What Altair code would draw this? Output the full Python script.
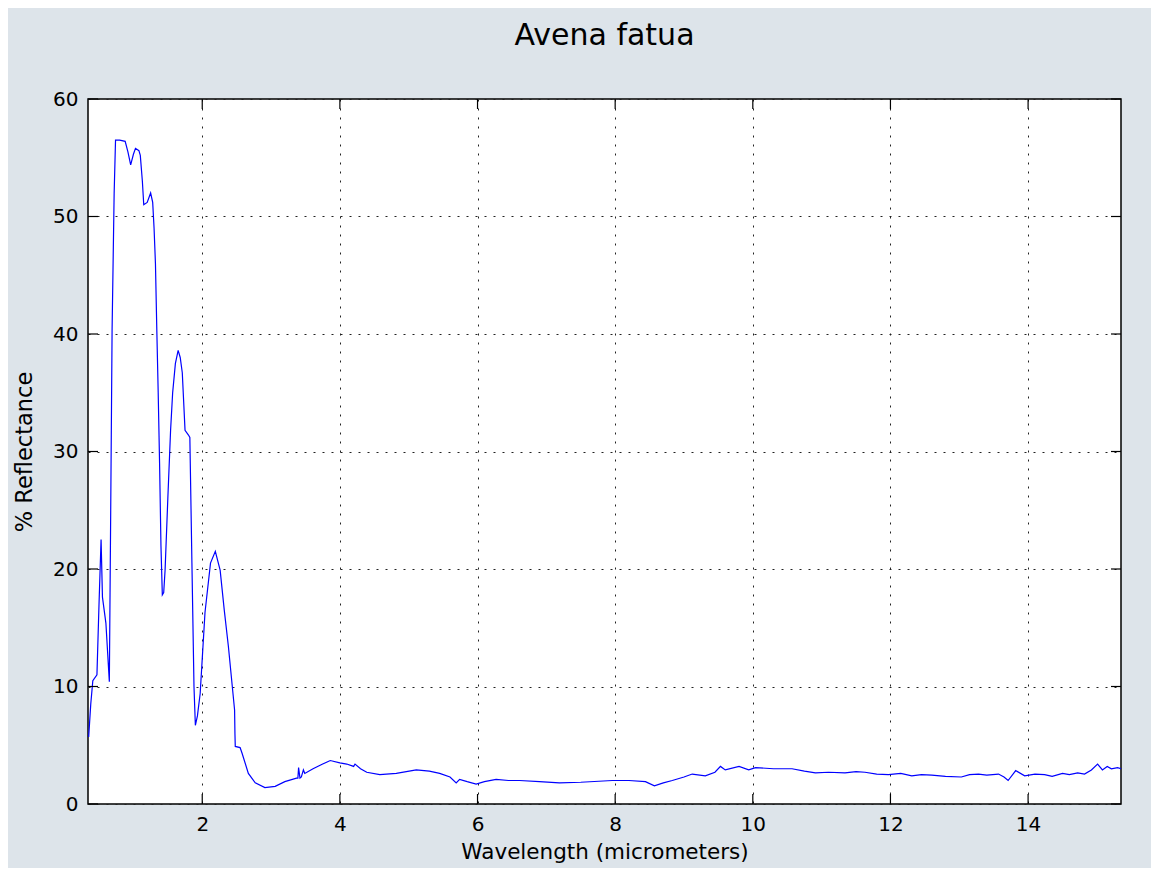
import altair as alt
import pandas as pd

# Wavelength (micrometers)
wavelength = [
    0.35, 0.38, 0.41, 0.47, 0.50, 0.53, 0.55, 0.60, 0.65, 0.67, 0.69, 0.72, 0.74, 0.80, 0.88,
    0.92, 0.96, 1.00, 1.03, 1.08, 1.10, 1.13, 1.15, 1.20, 1.25, 1.28, 1.30, 1.32, 1.34, 1.36,
    1.38, 1.40, 1.42, 1.44, 1.46, 1.50, 1.54, 1.57, 1.61, 1.65, 1.68, 1.71, 1.75, 1.80, 1.82,
    1.85, 1.88, 1.90, 1.93, 1.97, 2.04, 2.12, 2.19, 2.26, 2.32, 2.38, 2.47, 2.475, 2.48, 2.55,
    2.58, 2.67, 2.77, 2.91, 3.06, 3.20, 3.37, 3.39, 3.40, 3.42, 3.44, 3.47, 3.49, 3.61, 3.75,
    3.86, 4.00, 4.10, 4.20, 4.22, 4.30, 4.39, 4.58, 4.82, 5.11, 5.30, 5.45, 5.60, 5.69, 5.74,
    5.85, 5.98, 6.10, 6.27, 6.45, 6.61, 6.90, 7.19, 7.50, 7.96, 8.20, 8.44, 8.57, 8.70, 8.83,
    9.00, 9.12, 9.31, 9.45, 9.53, 9.60, 9.80, 9.94, 10.04, 10.30, 10.57, 10.75, 10.91, 11.10,
    11.34, 11.50, 11.63, 11.80, 11.97, 12.15, 12.31, 12.45, 12.60, 12.80, 13.03, 13.15, 13.28,
    13.40, 13.57, 13.65, 13.71, 13.82, 13.95, 14.10, 14.24, 14.35, 14.50, 14.60, 14.72, 14.82,
    14.92, 15.01, 15.08, 15.15, 15.21, 15.30, 15.35,
]

# % Reflectance
reflectance = [
    5.7, 8.5, 10.5, 11.0, 17.0, 22.5, 17.6, 15.4, 10.4, 25.0, 40.3, 52.0, 56.5, 56.5, 56.4,
    55.5, 54.4, 55.3, 55.8, 55.6, 55.2, 53.0, 51.0, 51.2, 52.0, 51.2, 49.0, 46.0, 40.3, 35.0,
    29.0, 22.0, 17.8, 18.0, 19.9, 26.0, 31.8, 35.0, 37.5, 38.6, 38.0, 36.7, 31.8, 31.4, 31.2,
    20.5, 10.0, 6.7, 7.5, 9.4, 16.3, 20.5, 21.5, 19.9, 16.5, 13.4, 8.0, 6.0, 4.9, 4.8,
    4.3, 2.6, 1.8, 1.4, 1.5, 1.9, 2.2, 2.2, 3.1, 2.2, 2.3, 2.9, 2.6, 3.0, 3.4,
    3.7, 3.5, 3.4, 3.2, 3.4, 3.0, 2.7, 2.5, 2.6, 2.9, 2.8, 2.6, 2.3, 1.8, 2.1,
    1.9, 1.7, 1.9, 2.1, 2.0, 2.0, 1.9, 1.8, 1.85, 2.0, 2.0, 1.9, 1.55, 1.8, 2.0,
    2.3, 2.55, 2.4, 2.7, 3.2, 2.9, 3.2, 2.9, 3.1, 3.0, 3.0, 2.8, 2.65, 2.7,
    2.65, 2.75, 2.7, 2.55, 2.5, 2.6, 2.4, 2.5, 2.45, 2.35, 2.3, 2.5, 2.55,
    2.45, 2.55, 2.3, 2.0, 2.85, 2.4, 2.55, 2.5, 2.35, 2.6, 2.5, 2.65, 2.55,
    2.9, 3.4, 2.9, 3.2, 3.0, 3.1, 3.0,
]

x_ticks = [2, 4, 6, 8, 10, 12, 14]
y_ticks = [0, 10, 20, 30, 40, 50, 60]

W, H = 1033, 705
FONT = "DejaVu Sans"

df = pd.DataFrame({"wl": wavelength, "r": reflectance})
xt = pd.DataFrame({"t": x_ticks})
yt = pd.DataFrame({"t": y_ticks})

xscale = alt.Scale(domain=[0.34, 15.35], nice=False, zero=False)
yscale = alt.Scale(domain=[0, 60], nice=False)

grid_common = dict(
    grid=True, gridColor="#222222", gridDash=[2, 7], gridWidth=1, gridOpacity=1,
    domain=False, ticks=False, tickSize=0, format="d",
    labelFont=FONT, labelFontSize=20, labelColor="black",
    titleFont=FONT, titleFontWeight="normal", titleColor="black",
)

line = alt.Chart(df).mark_line(color="#0000ff", strokeWidth=1.2).encode(
    x=alt.X("wl:Q", scale=xscale,
            axis=alt.Axis(values=x_ticks, title="Wavelength (micrometers)",
                          labelPadding=10, titlePadding=7, titleFontSize=21.5,
                          **grid_common)),
    y=alt.Y("r:Q", scale=yscale,
            axis=alt.Axis(values=y_ticks, title="% Reflectance",
                          labelPadding=10, titlePadding=16, titleFontSize=22.5,
                          **grid_common)),
)

tick_style = dict(color="black", strokeWidth=1.2)
xb = alt.Chart(xt).mark_rule(**tick_style).encode(
    x=alt.X("t:Q", scale=xscale), y=alt.value(H), y2=alt.value(H - 10))
xtop = alt.Chart(xt).mark_rule(**tick_style).encode(
    x=alt.X("t:Q", scale=xscale), y=alt.value(0), y2=alt.value(10))
yl = alt.Chart(yt).mark_rule(**tick_style).encode(
    y=alt.Y("t:Q", scale=yscale), x=alt.value(0), x2=alt.value(10))
yr = alt.Chart(yt).mark_rule(**tick_style).encode(
    y=alt.Y("t:Q", scale=yscale), x=alt.value(W), x2=alt.value(W - 10))

chart = alt.layer(line, xb, xtop, yl, yr).properties(
    width=W, height=H,
    title=alt.TitleParams("Avena fatua", font=FONT, fontSize=30, fontWeight="normal",
                          color="black", anchor="middle", offset=38),
    background="#dde4ea",
    padding={"left": 80, "top": 91, "right": 30, "bottom": 64},
    autosize=alt.AutoSizeParams(type="none"),
).configure_view(
    stroke="black", strokeWidth=1.5, fill="white"
)

chart.save("out.html", embed_options={"renderer": "svg", "actions": False})
